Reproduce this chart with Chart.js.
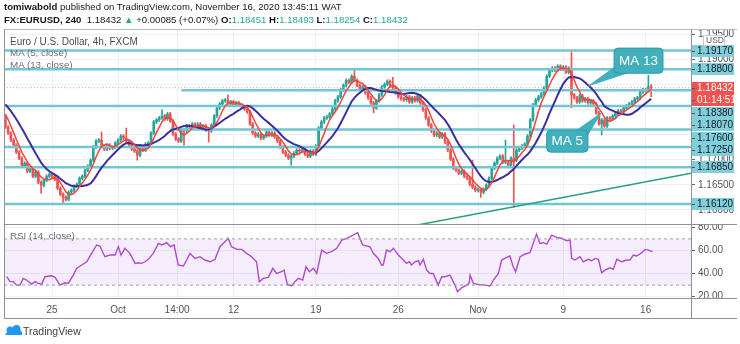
<!DOCTYPE html>
<html>
<head>
<meta charset="utf-8">
<script src="https://cdn.jsdelivr.net/npm/chart.js@4.4.0/dist/chart.umd.min.js"></script>
<style>
  body { margin: 0; width: 740px; height: 344px; overflow: hidden; position: relative; background: #fff;
         font-family: 'Liberation Sans', Arial, sans-serif; color: #131722; }
  .txt { position: absolute; white-space: nowrap; z-index: 2; }
  .hdr { left: 4px; font-size: 9.6px; color: #131722; }
  .teal { color: #26a69a; }
  .leg { left: 10px; font-size: 9.8px; color: #6b6e76; }
  .line { position: absolute; background: #8f9198; z-index: 3; }
  canvas { position: absolute; left: 0; z-index: 1; }
</style>
</head>
<body>
<div class="txt hdr" style="top:1px"><b>tomiwabold</b> published on TradingView.com, November 16, 2020 13:45:11 WAT</div>
<div class="txt hdr" style="top:14px"><b>FX:EURUSD, 240</b>&nbsp; 1.18432 <span class="teal">▲</span> +0.00085 (+0.07%) <b>O:</b><span class="teal">1.18451</span> <b>H:</b><span class="teal">1.18493</span> <b>L:</b><span class="teal">1.18254</span> <b>C:</b><span class="teal">1.18432</span></div>

<div class="txt leg" style="top:36px;color:#4a4d56;font-size:10px">Euro / U.S. Dollar, 4h, FXCM</div>
<div class="txt leg" style="top:47px">MA (5, close)</div>
<div class="txt leg" style="top:59px">MA (13, close)</div>
<div class="txt leg" style="top:230px">RSI (14, close)</div>

<canvas id="main" width="740" height="225" style="top:0"></canvas>
<canvas id="rsi" width="740" height="94" style="top:225px"></canvas>

<!-- frame of the panes -->
<div class="line" style="left:4px;top:29px;width:733px;height:1px;background:#b8bac0"></div>
<div class="line" style="left:4px;top:29px;width:1px;height:290px"></div>
<div class="line" style="left:4px;top:224px;width:733px;height:1px"></div>
<div class="line" style="left:4px;top:298px;width:733px;height:1px"></div>
<div class="line" style="left:4px;top:318px;width:733px;height:1px"></div>
<div class="line" style="left:691px;top:29px;width:1px;height:290px"></div>

<svg style="position:absolute;left:4px;top:324px" width="19" height="12" viewBox="0 0 19 12">
  <path d="M1 11 L6 4 L9 7 L13 2 L18 8 L18 11 Z" fill="#2196f3"/>
  <circle cx="6" cy="6" r="3.5" fill="#2196f3"/>
  <circle cx="12.5" cy="5" r="4" fill="#2196f3"/>
</svg>
<div class="txt" style="left:23px;top:325px;font-size:10.5px;color:#3a3d45">TradingView</div>

<script>
// closes of the 4h candles (Sep 22 - Nov 16), one per candle
const closes = [
  1.1765, 1.1753, 1.1739, 1.1729, 1.1715, 1.1703, 1.1687, 1.1693, 1.1677, 1.1683,
  1.1667, 1.1675, 1.1655, 1.1649, 1.1659, 1.1667, 1.1671, 1.1667, 1.1661, 1.1643,
  1.1631, 1.1625, 1.1621, 1.1635, 1.1639, 1.1647, 1.1651, 1.1663, 1.1667, 1.1679,
  1.1687, 1.1699, 1.1725, 1.1737, 1.1739, 1.1727, 1.1721, 1.1729, 1.1723, 1.1725,
  1.1733, 1.1739, 1.1747, 1.1743, 1.1737, 1.1731, 1.1721, 1.1717, 1.1709, 1.1723,
  1.1719, 1.1731, 1.1733, 1.1753, 1.1775, 1.1779, 1.1783, 1.1787, 1.1781, 1.1791,
  1.1777, 1.1751, 1.1741, 1.1737, 1.1759, 1.1757, 1.1767, 1.1765, 1.1771, 1.1765,
  1.1771, 1.1763, 1.1767, 1.1759, 1.1757, 1.1769, 1.1787, 1.1803, 1.1811, 1.1817,
  1.1819, 1.1811, 1.1815, 1.1809, 1.1813, 1.1809, 1.1805, 1.1801, 1.1795, 1.1771,
  1.1753, 1.1747, 1.1751, 1.1743, 1.1747, 1.1755, 1.1749, 1.1753, 1.1745, 1.1737,
  1.1725, 1.1715, 1.1709, 1.1703, 1.1707, 1.1713, 1.1719, 1.1717, 1.1721, 1.1711,
  1.1707, 1.1717, 1.1711, 1.1727, 1.1763, 1.1775, 1.1783, 1.1785, 1.1791, 1.1801,
  1.1817, 1.1825, 1.1839, 1.1848, 1.1858, 1.1854, 1.1866, 1.1858, 1.1848, 1.1841,
  1.1845, 1.1833, 1.1823, 1.1813, 1.1803, 1.1817, 1.1829, 1.1845, 1.1850, 1.1856,
  1.1847, 1.1843, 1.1833, 1.1825, 1.1821, 1.1819, 1.1825, 1.1815, 1.1823, 1.1817,
  1.1827, 1.1813, 1.1799, 1.1783, 1.1769, 1.1757, 1.1749, 1.1753, 1.1745, 1.1751,
  1.1735, 1.1719, 1.1701, 1.1683, 1.1679, 1.1673, 1.1677, 1.1667, 1.1663, 1.1651,
  1.1645, 1.1639, 1.1641, 1.1635, 1.1641, 1.1649, 1.1663, 1.1683, 1.1693, 1.1703,
  1.1707, 1.1695, 1.1695, 1.1689, 1.1703, 1.1699, 1.1719, 1.1723, 1.1727, 1.1731,
  1.1747, 1.1779, 1.1809, 1.1819, 1.1825, 1.1831, 1.1843, 1.1866, 1.1878, 1.1882,
  1.1878, 1.1886, 1.1880, 1.1884, 1.1874, 1.1882, 1.1829, 1.1823, 1.1815, 1.1827,
  1.1817, 1.1821, 1.1813, 1.1817, 1.1811, 1.1793, 1.1771, 1.1779, 1.1767, 1.1783,
  1.1781, 1.1787, 1.1791, 1.1797, 1.1795, 1.1803, 1.1807, 1.1811, 1.1815, 1.1821,
  1.1823, 1.1835, 1.1839, 1.1837, 1.18451, 1.18432
];
// closes just before the visible window (needed for the moving averages)
const prevCloses = [1.1835, 1.1831, 1.1829, 1.1823, 1.1819, 1.1815, 1.1811, 1.1813, 1.1807, 1.1803, 1.1795, 1.1783];

// candles with long wicks
const spikeIndex = [13, 21, 35, 44, 48, 57, 65, 74, 81, 104, 127, 134, 141, 170, 173, 182, 185, 206, 217, 234, 235];
const spikeHigh = [null, null, 1.1755, 1.1763, null, 1.1799, null, null, 1.1829, null, 1.1878, null, 1.1864, 1.1699, null, 1.1739, 1.1769, 1.1918, null, 1.1868, 1.18493];
const spikeLow = [1.1633, 1.1615, null, null, 1.1699, null, 1.1729, 1.1735, null, 1.1689, null, 1.1793, null, null, 1.1625, null, 1.1605, 1.1803, 1.1749, null, 1.18254];

// horizontal levels drawn on the chart
const levelPrices = [1.1917, 1.1880, 1.1838, 1.1807, 1.1760, 1.1725, 1.1685, 1.1612];
const levelFrom = [-0.5, -0.5, 64, -0.5, 60, -0.5, -0.5, -0.5];

// rising trend line
const trendX = [150, 249.5];
const trendY = [1.1570, 1.1673];

// RSI (14)
const rsiX = [0.5, 1.7, 2.9, 4.1, 5.3, 6.5, 7.7, 9.6, 10.8, 12.0, 13.2, 14.4, 16.8, 18.1, 19.9, 21.7, 22.9, 24.7, 25.9, 27.8,
  29.6, 31.4, 33.2, 34.4, 36.2, 38.1, 39.9, 41.1, 42.1, 43.5, 45.3, 47.2, 48.4, 49.6, 50.8, 52.0, 53.8, 55.7, 56.9, 58.7,
  60.1, 61.4, 62.9, 64.8, 66.0, 67.2, 69.0, 70.8, 72.6, 74.5, 76.3, 78.1, 79.9, 81.1, 82.3, 84.2, 86.0, 87.8, 89.6, 91.4,
  92.4, 93.9, 95.7, 97.3, 98.7, 100.5, 101.4, 102.6, 104.2, 105.4, 106.6, 108.2, 109.4, 110.6, 112.1, 113.3, 115.1, 116.9, 118.7, 120.6,
  122.4, 124.2, 126.0, 128.2, 130.0, 132.7, 133.9, 135.7, 136.9, 137.5, 138.7, 140.0, 141.2, 143.0, 144.8, 146.0, 147.0, 147.8, 149.1, 150.3,
  150.9, 152.1, 153.3, 154.5, 155.7, 157.5, 158.8, 160.0, 161.8, 163.6, 164.5, 166.0, 167.9, 168.8, 169.1, 170.3, 172.1, 174.5, 176.4, 177.6,
  179.4, 180.6, 182.4, 183.6, 184.8, 185.7, 187.3, 189.1, 190.9, 192.1, 193.3, 194.5, 195.8, 197.0, 198.8, 200.6, 202.4, 204.3, 205.5, 206.1,
  207.3, 209.1, 210.3, 212.1, 213.3, 214.6, 215.8, 217.0, 218.2, 220.0, 221.2, 222.5, 224.3, 226.1, 227.3, 228.5, 229.7, 231.6, 232.8, 234.0, 235.5];
const rsiValues = [37.3, 33, 33, 30, 30, 35.8, 34.4, 30.9, 33, 31.5, 30.9, 37.3, 38.1, 36.7, 30, 32, 31.5, 38.7, 44.5, 47.4,
  50.2, 57.5, 64.7, 63.8, 54.6, 56, 56, 63.2, 56, 61.8, 57.5, 48.8, 49.4, 48.8, 50.2, 52.3, 57.5, 66.1, 64.7, 66.7,
  63.2, 64.7, 47.4, 46.5, 51.7, 57.5, 53.1, 54.6, 51.7, 50.2, 52.3, 63.2, 67.6, 70.5, 63.2, 60.9, 60.9, 57.5, 54.6, 50.2,
  33, 35.8, 36.7, 44.5, 40.1, 41.6, 43, 30.6, 29.5, 33, 35.8, 34.4, 45.9, 41.6, 44.5, 40.1, 60.3, 57.5, 58.9, 61.8,
  69, 70.5, 72.5, 75.4, 64.7, 63.2, 57.5, 53.1, 47.4, 47.4, 60.3, 58.9, 61.8, 56, 51.7, 48.8, 50.2, 47.4, 50.2, 51.1,
  47.4, 52.3, 43, 40.1, 40.1, 30, 37.3, 37.3, 38.7, 30, 24.3, 27.7, 30, 32, 38.7, 31.5, 30.6, 30, 29.2, 34.4,
  40.1, 51.7, 54, 55.2, 45.9, 41.6, 54.6, 56.9, 58, 66.1, 74.2, 66.1, 66.7, 65.5, 73.3, 71.3, 70.5, 68.4, 69, 53.1,
  51.7, 54.6, 50.2, 52.3, 51.1, 53.1, 52.3, 40.7, 43, 45, 43.6, 52.3, 50.2, 51.7, 51.7, 56, 55.2, 58, 60.9, 60.3, 58.9];
const rsiBand = [70, 30];

// time axis
const timeTickPos = [17, 41, 62.5, 83, 113, 143, 172, 203, 233];
const timeTickLabels = ['25', 'Oct', '14:00', '12', '19', '26', 'Nov', '9', '16'];

// callouts: text, box [x0, x1, top price, bottom price], tip [x, price]
const calloutText = ['MA 13', 'MA 5'];
const calloutBox = [[221.5, 239.3, 1.1922, 1.1872], [197, 212, 1.1759, 1.1715]];
const calloutTip = [[211.6, 1.1845], [217.1, 1.1795]];

const X_MIN = -0.5, X_MAX = 249.5;
const UP = '#26a69a', DOWN = '#ef5350';
const LEVEL_COLOR = '#72c6d2';
const WICK_PAD = 0.0003;

Chart.defaults.font.family = "'Liberation Sans', Arial, sans-serif";

// build candles: open is the previous close
const bodyData = [], wickData = [], candleColors = [];
closes.forEach((c, i) => {
  const o = i === 0 ? prevCloses[prevCloses.length - 1] : closes[i - 1];
  let hi = Math.max(o, c) + WICK_PAD;
  let lo = Math.min(o, c) - WICK_PAD;
  const k = spikeIndex.indexOf(i);
  if (k >= 0) {
    if (spikeHigh[k] !== null) hi = spikeHigh[k];
    if (spikeLow[k] !== null) lo = spikeLow[k];
  }
  bodyData.push({ x: i, y: [o, c] });
  wickData.push({ x: i, y: [lo, hi] });
  candleColors.push(c >= o ? UP : DOWN);
});

// simple moving average of the closes
function sma(n) {
  const all = prevCloses.concat(closes);
  return closes.map((c, i) => {
    const k = i + prevCloses.length;
    let s = 0;
    for (let j = k - n + 1; j <= k; j++) s += all[j];
    return { x: i, y: s / n };
  });
}

const lastClose = closes[closes.length - 1];
const labelPrices = levelPrices.concat([lastClose]);

const levelSets = levelPrices.map((p, i) => ({
  type: 'line',
  data: [{ x: levelFrom[i], y: p }, { x: X_MAX, y: p }],
  borderColor: LEVEL_COLOR, borderWidth: 2.5, pointRadius: 0, order: 3
}));

// axis sizes fixed, no extra padding for the tick labels
function fitVertical(s) {
  s.width = 49;
  s.paddingTop = 0;
  s.paddingBottom = 0;
}

// teal boxes with a pointer
const callouts = {
  id: 'callouts',
  afterDatasetsDraw(chart) {
    const ctx = chart.ctx, xs = chart.scales.x, ys = chart.scales.y;
    ctx.save();
    calloutText.forEach((t, i) => {
      const l = xs.getPixelForValue(calloutBox[i][0]), r = xs.getPixelForValue(calloutBox[i][1]);
      const top = ys.getPixelForValue(calloutBox[i][2]), bot = ys.getPixelForValue(calloutBox[i][3]);
      const tx = xs.getPixelForValue(calloutTip[i][0]), ty = ys.getPixelForValue(calloutTip[i][1]);
      ctx.fillStyle = '#42b0bc';
      ctx.strokeStyle = '#2e9aa6';
      ctx.lineWidth = 1;
      ctx.beginPath();
      if (ty > bot) {
        ctx.moveTo(l + 1, bot - 7); ctx.lineTo(tx, ty); ctx.lineTo(l + 17, bot - 1);
      } else {
        ctx.moveTo(r - 13, top + 1); ctx.lineTo(tx, ty); ctx.lineTo(r - 1, top + 7);
      }
      ctx.closePath();
      ctx.fill();
      ctx.beginPath();
      ctx.roundRect(l, top, r - l, bot - top, 4);
      ctx.fill();
      ctx.stroke();
      ctx.fillStyle = '#ffffff';
      ctx.font = "13.5px 'Liberation Sans', Arial, sans-serif";
      ctx.textAlign = 'center';
      ctx.textBaseline = 'middle';
      ctx.fillText(t, (l + r) / 2, (top + bot) / 2 + 0.5);
    });
    ctx.restore();
  }
};

// coloured labels on the price axis
const priceLabels = {
  id: 'priceLabels',
  afterDraw(chart) {
    const ctx = chart.ctx, ys = chart.scales.y;
    const x0 = chart.chartArea.right + 1;
    const items = levelPrices.map(p => ({ text: p.toFixed(5), py: ys.getPixelForValue(p), bg: '#80cfdb', fg: '#131722' }));
    const cy = ys.getPixelForValue(lastClose);
    items.push({ text: lastClose.toFixed(5), py: cy - 0.02, bg: DOWN, fg: '#ffffff' });
    items.push({ text: '01:14:51', py: cy - 0.01, bg: DOWN, fg: '#ffffff' });
    items.sort((a, b) => a.py - b.py);
    let prev = -100;
    ctx.save();
    ctx.font = "10px 'Liberation Sans', Arial, sans-serif";
    ctx.textBaseline = 'middle';
    items.forEach(it => {
      const y = Math.max(it.py, prev + 12.5);
      prev = y;
      ctx.fillStyle = it.bg;
      ctx.fillRect(x0, Math.round(y - 6), 42, 12);
      ctx.fillStyle = it.fg;
      ctx.fillText(it.text, x0 + 5, y + 0.5);
      ctx.fillStyle = '#555';
      ctx.fillRect(x0, Math.round(y), 3, 1);
    });
    // currency box
    ctx.fillStyle = '#ffffff';
    ctx.strokeStyle = '#c9cbd1';
    ctx.fillRect(703.5, 35.5, 21, 10);
    ctx.strokeRect(703.5, 35.5, 21, 10);
    ctx.fillStyle = '#5d606b';
    ctx.font = "8.5px 'Liberation Sans', Arial, sans-serif";
    ctx.fillText('USD', 706, 41);
    ctx.restore();
  }
};

new Chart(document.getElementById('main'), {
  type: 'bar',
  data: {
    datasets: [
      { type: 'line', data: sma(5), borderColor: '#f2443a', borderWidth: 1.5, pointRadius: 0, order: 0 },
      { type: 'line', data: sma(13), borderColor: '#3b2f9f', borderWidth: 2, pointRadius: 0, order: 1 },
      { type: 'line', data: trendX.map((x, i) => ({ x, y: trendY[i] })), borderColor: '#22a086', borderWidth: 1.5, pointRadius: 0, order: 2 },
      { type: 'line', data: [{ x: X_MIN, y: lastClose }, { x: X_MAX, y: lastClose }], borderColor: '#f29a9a', borderWidth: 1, borderDash: [1, 2], pointRadius: 0, order: 2 },
      ...levelSets,
      { type: 'bar', data: bodyData, backgroundColor: candleColors, barThickness: 2, minBarLength: 1, grouped: false, order: 4 },
      { type: 'bar', data: wickData, backgroundColor: candleColors, barThickness: 1, grouped: false, order: 5 }
    ]
  },
  options: {
    responsive: false,
    animation: false,
    devicePixelRatio: 1,
    layout: { padding: { left: 4, top: 29, right: 0, bottom: 0 }, autoPadding: false },
    plugins: { legend: { display: false }, tooltip: { enabled: false } },
    scales: {
      x: {
        type: 'linear', min: X_MIN, max: X_MAX, offset: false,
        afterBuildTicks: s => { s.ticks = timeTickPos.map(v => ({ value: v })); },
        afterFit: s => { s.height = 0; s.paddingLeft = 0; s.paddingRight = 0; },
        ticks: { display: false },
        grid: { color: '#edf0f5', drawTicks: false, offset: false },
        border: { display: false }
      },
      y: {
        position: 'right', min: 1.157, max: 1.196,
        afterFit: fitVertical,
        ticks: {
          stepSize: 0.005, includeBounds: false, color: '#50535e', font: { size: 10 }, padding: 3,
          // ticks that sit under a coloured label are not shown
          callback: v => labelPrices.some(p => Math.abs(v - p) < 0.0011) ? '' : v.toFixed(5)
        },
        grid: { color: '#edf0f5', tickLength: 4, tickColor: '#666' },
        border: { display: false }
      }
    }
  },
  plugins: [callouts, priceLabels]
});

new Chart(document.getElementById('rsi'), {
  type: 'line',
  data: {
    datasets: [
      { data: [{ x: X_MIN, y: rsiBand[0] }, { x: X_MAX, y: rsiBand[0] }], borderColor: '#a3a3a3', borderWidth: 1, borderDash: [3, 3], pointRadius: 0, fill: '+1', backgroundColor: 'rgba(166, 82, 224, 0.11)' },
      { data: [{ x: X_MIN, y: rsiBand[1] }, { x: X_MAX, y: rsiBand[1] }], borderColor: '#a3a3a3', borderWidth: 1, borderDash: [3, 3], pointRadius: 0, fill: false },
      { data: rsiX.map((x, i) => ({ x, y: rsiValues[i] })), borderColor: '#b04cc8', borderWidth: 1.4, pointRadius: 0, fill: false }
    ]
  },
  options: {
    responsive: false,
    animation: false,
    devicePixelRatio: 1,
    layout: { padding: { left: 4, top: 0, right: 0, bottom: 0 }, autoPadding: false },
    plugins: { legend: { display: false }, tooltip: { enabled: false } },
    scales: {
      x: {
        type: 'linear', min: X_MIN, max: X_MAX,
        afterBuildTicks: s => { s.ticks = timeTickPos.map(v => ({ value: v })); },
        afterFit: s => { s.height = 20; s.paddingLeft = 0; s.paddingRight = 0; },
        ticks: { callback: (v, i) => timeTickLabels[i], color: '#50535e', font: { size: 10 }, padding: 5, maxRotation: 0, autoSkip: false },
        grid: { color: '#edf0f5', drawTicks: false },
        border: { display: false }
      },
      y: {
        position: 'right', min: 18, max: 82,
        afterFit: fitVertical,
        ticks: { stepSize: 20, includeBounds: false, callback: v => v.toFixed(2), color: '#50535e', font: { size: 10 }, padding: 3 },
        grid: { color: '#f1f1f4', tickLength: 4, tickColor: '#666' },
        border: { display: false }
      }
    }
  }
});
</script>
</body>
</html>
